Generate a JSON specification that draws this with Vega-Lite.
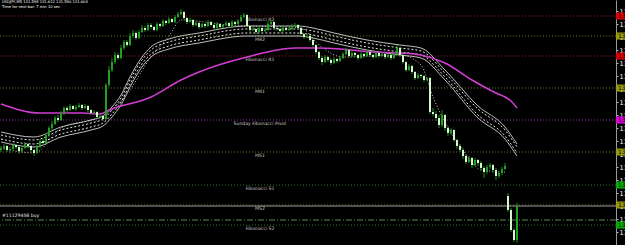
{
"$schema":"https://vega.github.io/schema/vega-lite/v6.json",
"width":616,"height":245,
"autosize":{"type":"none"},
"padding":{"left":0,"top":0,"right":9,"bottom":0},
"background":"#000000",
"config":{"view":{"stroke":null},"font":"DejaVu Sans"},
"resolve":{"axis":{"y":"independent","x":"independent"}},
"datasets":{
"candles":[
{"i":0,"o":132.72,"h":132.80,"l":132.68,"c":132.76},
{"i":1,"o":132.76,"h":132.84,"l":132.72,"c":132.80},
{"i":2,"o":132.80,"h":132.82,"l":132.68,"c":132.72},
{"i":3,"o":132.72,"h":132.78,"l":132.66,"c":132.74},
{"i":4,"o":132.74,"h":132.86,"l":132.72,"c":132.82},
{"i":5,"o":132.82,"h":132.84,"l":132.74,"c":132.78},
{"i":6,"o":132.78,"h":132.80,"l":132.64,"c":132.70},
{"i":7,"o":132.70,"h":132.78,"l":132.68,"c":132.76},
{"i":8,"o":132.76,"h":132.88,"l":132.74,"c":132.84},
{"i":9,"o":132.84,"h":132.86,"l":132.76,"c":132.80},
{"i":10,"o":132.80,"h":132.82,"l":132.68,"c":132.72},
{"i":11,"o":132.72,"h":132.74,"l":132.60,"c":132.66},
{"i":12,"o":132.66,"h":132.82,"l":132.64,"c":132.78},
{"i":13,"o":132.78,"h":132.94,"l":132.76,"c":132.90},
{"i":14,"o":132.90,"h":132.96,"l":132.82,"c":132.86},
{"i":15,"o":132.86,"h":133.06,"l":132.84,"c":133.02},
{"i":16,"o":133.02,"h":133.20,"l":132.98,"c":133.16},
{"i":17,"o":133.16,"h":133.30,"l":133.12,"c":133.24},
{"i":18,"o":133.24,"h":133.40,"l":133.22,"c":133.36},
{"i":19,"o":133.36,"h":133.42,"l":133.28,"c":133.32},
{"i":20,"o":133.32,"h":133.50,"l":133.30,"c":133.46},
{"i":21,"o":133.46,"h":133.60,"l":133.42,"c":133.56},
{"i":22,"o":133.56,"h":133.60,"l":133.48,"c":133.52},
{"i":23,"o":133.52,"h":133.64,"l":133.50,"c":133.60},
{"i":24,"o":133.60,"h":133.62,"l":133.52,"c":133.54},
{"i":25,"o":133.54,"h":133.62,"l":133.50,"c":133.58},
{"i":26,"o":133.58,"h":133.66,"l":133.56,"c":133.62},
{"i":27,"o":133.62,"h":133.64,"l":133.52,"c":133.56},
{"i":28,"o":133.56,"h":133.64,"l":133.54,"c":133.60},
{"i":29,"o":133.60,"h":133.62,"l":133.48,"c":133.52},
{"i":30,"o":133.52,"h":133.54,"l":133.42,"c":133.46},
{"i":31,"o":133.46,"h":133.52,"l":133.44,"c":133.48},
{"i":32,"o":133.48,"h":133.50,"l":133.34,"c":133.38},
{"i":33,"o":133.38,"h":133.44,"l":133.36,"c":133.40},
{"i":34,"o":133.40,"h":133.42,"l":133.30,"c":133.34},
{"i":35,"o":133.34,"h":134.06,"l":133.32,"c":134.02},
{"i":36,"o":134.02,"h":134.40,"l":133.98,"c":134.32},
{"i":37,"o":134.32,"h":134.56,"l":134.28,"c":134.48},
{"i":38,"o":134.48,"h":134.68,"l":134.44,"c":134.62},
{"i":39,"o":134.62,"h":134.66,"l":134.52,"c":134.56},
{"i":40,"o":134.56,"h":134.82,"l":134.54,"c":134.76},
{"i":41,"o":134.76,"h":134.92,"l":134.72,"c":134.88},
{"i":42,"o":134.88,"h":134.92,"l":134.78,"c":134.82},
{"i":43,"o":134.82,"h":135.06,"l":134.80,"c":135.00},
{"i":44,"o":135.00,"h":135.12,"l":134.96,"c":135.06},
{"i":45,"o":135.06,"h":135.10,"l":134.92,"c":134.96},
{"i":46,"o":134.96,"h":135.12,"l":134.94,"c":135.08},
{"i":47,"o":135.08,"h":135.22,"l":135.06,"c":135.16},
{"i":48,"o":135.16,"h":135.20,"l":135.08,"c":135.12},
{"i":49,"o":135.12,"h":135.26,"l":135.10,"c":135.22},
{"i":50,"o":135.22,"h":135.26,"l":135.14,"c":135.18},
{"i":51,"o":135.18,"h":135.20,"l":135.10,"c":135.12},
{"i":52,"o":135.12,"h":135.28,"l":135.10,"c":135.24},
{"i":53,"o":135.24,"h":135.26,"l":135.16,"c":135.20},
{"i":54,"o":135.20,"h":135.34,"l":135.18,"c":135.30},
{"i":55,"o":135.30,"h":135.32,"l":135.22,"c":135.26},
{"i":56,"o":135.26,"h":135.38,"l":135.24,"c":135.34},
{"i":57,"o":135.34,"h":135.36,"l":135.26,"c":135.28},
{"i":58,"o":135.28,"h":135.42,"l":135.26,"c":135.38},
{"i":59,"o":135.38,"h":135.48,"l":135.36,"c":135.44},
{"i":60,"o":135.44,"h":135.54,"l":135.42,"c":135.48},
{"i":61,"o":135.48,"h":135.50,"l":135.32,"c":135.36},
{"i":62,"o":135.36,"h":135.38,"l":135.24,"c":135.28},
{"i":63,"o":135.28,"h":135.36,"l":135.26,"c":135.32},
{"i":64,"o":135.32,"h":135.34,"l":135.18,"c":135.22},
{"i":65,"o":135.22,"h":135.30,"l":135.20,"c":135.26},
{"i":66,"o":135.26,"h":135.28,"l":135.14,"c":135.18},
{"i":67,"o":135.18,"h":135.26,"l":135.16,"c":135.24},
{"i":68,"o":135.24,"h":135.26,"l":135.16,"c":135.20},
{"i":69,"o":135.20,"h":135.32,"l":135.18,"c":135.28},
{"i":70,"o":135.28,"h":135.30,"l":135.20,"c":135.22},
{"i":71,"o":135.22,"h":135.24,"l":135.12,"c":135.16},
{"i":72,"o":135.16,"h":135.28,"l":135.14,"c":135.24},
{"i":73,"o":135.24,"h":135.26,"l":135.14,"c":135.18},
{"i":74,"o":135.18,"h":135.24,"l":135.16,"c":135.22},
{"i":75,"o":135.22,"h":135.30,"l":135.20,"c":135.26},
{"i":76,"o":135.26,"h":135.28,"l":135.16,"c":135.20},
{"i":77,"o":135.20,"h":135.32,"l":135.18,"c":135.28},
{"i":78,"o":135.28,"h":135.30,"l":135.20,"c":135.24},
{"i":79,"o":135.24,"h":135.34,"l":135.22,"c":135.30},
{"i":80,"o":135.30,"h":135.42,"l":135.28,"c":135.38},
{"i":81,"o":135.38,"h":135.46,"l":135.36,"c":135.42},
{"i":82,"o":135.42,"h":135.44,"l":135.18,"c":135.20},
{"i":83,"o":135.20,"h":135.22,"l":135.08,"c":135.12},
{"i":84,"o":135.12,"h":135.18,"l":135.10,"c":135.14},
{"i":85,"o":135.14,"h":135.16,"l":135.04,"c":135.08},
{"i":86,"o":135.08,"h":135.20,"l":135.06,"c":135.16},
{"i":87,"o":135.16,"h":135.18,"l":135.06,"c":135.10},
{"i":88,"o":135.10,"h":135.16,"l":135.08,"c":135.12},
{"i":89,"o":135.12,"h":135.30,"l":135.10,"c":135.24},
{"i":90,"o":135.24,"h":135.32,"l":135.22,"c":135.28},
{"i":91,"o":135.28,"h":135.30,"l":135.14,"c":135.16},
{"i":92,"o":135.16,"h":135.18,"l":135.10,"c":135.14},
{"i":93,"o":135.14,"h":135.16,"l":135.06,"c":135.10},
{"i":94,"o":135.10,"h":135.20,"l":135.08,"c":135.16},
{"i":95,"o":135.16,"h":135.18,"l":135.10,"c":135.12},
{"i":96,"o":135.12,"h":135.18,"l":135.10,"c":135.14},
{"i":97,"o":135.14,"h":135.24,"l":135.12,"c":135.20},
{"i":98,"o":135.20,"h":135.26,"l":135.18,"c":135.22},
{"i":99,"o":135.22,"h":135.24,"l":135.12,"c":135.16},
{"i":100,"o":135.16,"h":135.18,"l":135.00,"c":135.04},
{"i":101,"o":135.04,"h":135.06,"l":134.94,"c":134.98},
{"i":102,"o":134.98,"h":135.04,"l":134.96,"c":135.00},
{"i":103,"o":135.00,"h":135.02,"l":134.88,"c":134.92},
{"i":104,"o":134.92,"h":134.94,"l":134.78,"c":134.82},
{"i":105,"o":134.82,"h":134.84,"l":134.64,"c":134.68},
{"i":106,"o":134.68,"h":134.70,"l":134.52,"c":134.56},
{"i":107,"o":134.56,"h":134.60,"l":134.42,"c":134.48},
{"i":108,"o":134.48,"h":134.62,"l":134.46,"c":134.58},
{"i":109,"o":134.58,"h":134.60,"l":134.48,"c":134.52},
{"i":110,"o":134.52,"h":134.56,"l":134.42,"c":134.46},
{"i":111,"o":134.46,"h":134.58,"l":134.44,"c":134.54},
{"i":112,"o":134.54,"h":134.56,"l":134.46,"c":134.50},
{"i":113,"o":134.50,"h":134.60,"l":134.48,"c":134.56},
{"i":114,"o":134.56,"h":134.68,"l":134.54,"c":134.64},
{"i":115,"o":134.64,"h":134.76,"l":134.62,"c":134.72},
{"i":116,"o":134.72,"h":134.74,"l":134.56,"c":134.60},
{"i":117,"o":134.60,"h":134.70,"l":134.58,"c":134.66},
{"i":118,"o":134.66,"h":134.68,"l":134.58,"c":134.62},
{"i":119,"o":134.62,"h":134.64,"l":134.52,"c":134.56},
{"i":120,"o":134.56,"h":134.68,"l":134.54,"c":134.64},
{"i":121,"o":134.64,"h":134.66,"l":134.56,"c":134.60},
{"i":122,"o":134.60,"h":134.72,"l":134.58,"c":134.68},
{"i":123,"o":134.68,"h":134.70,"l":134.58,"c":134.62},
{"i":124,"o":134.62,"h":134.64,"l":134.54,"c":134.58},
{"i":125,"o":134.58,"h":134.70,"l":134.56,"c":134.66},
{"i":126,"o":134.66,"h":134.68,"l":134.56,"c":134.60},
{"i":127,"o":134.60,"h":134.66,"l":134.58,"c":134.64},
{"i":128,"o":134.64,"h":134.66,"l":134.54,"c":134.58},
{"i":129,"o":134.58,"h":134.64,"l":134.56,"c":134.62},
{"i":130,"o":134.62,"h":134.64,"l":134.52,"c":134.56},
{"i":131,"o":134.56,"h":134.68,"l":134.54,"c":134.64},
{"i":132,"o":134.64,"h":134.82,"l":134.62,"c":134.76},
{"i":133,"o":134.76,"h":134.78,"l":134.58,"c":134.62},
{"i":134,"o":134.62,"h":134.64,"l":134.44,"c":134.48},
{"i":135,"o":134.48,"h":134.50,"l":134.28,"c":134.32},
{"i":136,"o":134.32,"h":134.44,"l":134.30,"c":134.40},
{"i":137,"o":134.40,"h":134.42,"l":134.24,"c":134.28},
{"i":138,"o":134.28,"h":134.30,"l":134.12,"c":134.16},
{"i":139,"o":134.16,"h":134.26,"l":134.14,"c":134.22},
{"i":140,"o":134.22,"h":134.24,"l":134.16,"c":134.20},
{"i":141,"o":134.20,"h":134.22,"l":134.08,"c":134.12},
{"i":142,"o":134.12,"h":134.18,"l":134.10,"c":134.16},
{"i":143,"o":134.16,"h":134.18,"l":133.44,"c":133.48},
{"i":144,"o":133.48,"h":133.56,"l":133.40,"c":133.44},
{"i":145,"o":133.44,"h":133.50,"l":133.30,"c":133.36},
{"i":146,"o":133.36,"h":133.42,"l":133.16,"c":133.22},
{"i":147,"o":133.22,"h":133.52,"l":133.18,"c":133.42},
{"i":148,"o":133.42,"h":133.44,"l":133.10,"c":133.16},
{"i":149,"o":133.16,"h":133.20,"l":133.00,"c":133.06},
{"i":150,"o":133.06,"h":133.16,"l":133.02,"c":133.12},
{"i":151,"o":133.12,"h":133.14,"l":132.88,"c":132.92},
{"i":152,"o":132.92,"h":132.94,"l":132.74,"c":132.80},
{"i":153,"o":132.80,"h":132.84,"l":132.68,"c":132.72},
{"i":154,"o":132.72,"h":132.76,"l":132.54,"c":132.60},
{"i":155,"o":132.60,"h":132.64,"l":132.44,"c":132.48},
{"i":156,"o":132.48,"h":132.60,"l":132.46,"c":132.56},
{"i":157,"o":132.56,"h":132.58,"l":132.36,"c":132.42},
{"i":158,"o":132.42,"h":132.56,"l":132.40,"c":132.52},
{"i":159,"o":132.52,"h":132.54,"l":132.40,"c":132.46},
{"i":160,"o":132.46,"h":132.50,"l":132.30,"c":132.36},
{"i":161,"o":132.36,"h":132.40,"l":132.16,"c":132.28},
{"i":162,"o":132.28,"h":132.42,"l":132.24,"c":132.38},
{"i":163,"o":132.38,"h":132.46,"l":132.34,"c":132.42},
{"i":164,"o":132.42,"h":132.44,"l":132.26,"c":132.32},
{"i":165,"o":132.32,"h":132.36,"l":132.12,"c":132.20},
{"i":166,"o":132.20,"h":132.30,"l":132.16,"c":132.26},
{"i":167,"o":132.26,"h":132.38,"l":132.22,"c":132.34},
{"i":168,"o":132.34,"h":132.46,"l":132.32,"c":132.40},
{"i":169,"o":131.80,"h":131.86,"l":131.48,"c":131.52},
{"i":170,"o":131.52,"h":131.56,"l":131.08,"c":131.12},
{"i":171,"o":131.12,"h":131.16,"l":130.88,"c":130.92},
{"i":172,"o":130.92,"h":131.66,"l":130.86,"c":131.60}
],
"ma":[
{"i":0,"p":133.64},{"i":13,"p":133.46},{"i":27,"p":133.46},{"i":33,"p":133.44},{"i":36,"p":133.52},{"i":50,"p":133.78},{"i":60,"p":134.12},{"i":66,"p":134.28},{"i":82,"p":134.58},{"i":98,"p":134.76},{"i":105,"p":134.76},{"i":113,"p":134.74},{"i":124,"p":134.68},{"i":133,"p":134.66},{"i":140,"p":134.62},{"i":148,"p":134.46},{"i":157,"p":134.12},{"i":165,"p":133.86},{"i":168,"p":133.78},{"i":170,"p":133.70},{"i":172,"p":133.56}
],
"fast":[
{"i":0,"p":132.76},{"i":11,"p":132.66},{"i":20,"p":133.16},{"i":33,"p":133.38},{"i":36,"p":133.48},{"i":42,"p":133.84},{"i":50,"p":134.58},{"i":56,"p":135.00},{"i":60,"p":135.32},{"i":76,"p":135.22},{"i":100,"p":135.16},{"i":106,"p":134.82},{"i":114,"p":134.58},{"i":133,"p":134.62},{"i":140,"p":134.42},{"i":144,"p":133.78},{"i":154,"p":132.72},{"i":160,"p":132.32},{"i":168,"p":132.28}
],
"env":[
{"i":0,"band":"up","p":133.08},{"i":0,"band":"upm","p":133.02},{"i":0,"band":"lom","p":132.94},{"i":0,"band":"lo","p":132.88},
{"i":11,"band":"up","p":132.98},{"i":11,"band":"upm","p":132.92},{"i":11,"band":"lom","p":132.84},{"i":11,"band":"lo","p":132.78},
{"i":20,"band":"up","p":133.18},{"i":20,"band":"upm","p":133.12},{"i":20,"band":"lom","p":133.04},{"i":20,"band":"lo","p":132.98},
{"i":30,"band":"up","p":133.32},{"i":30,"band":"upm","p":133.26},{"i":30,"band":"lom","p":133.18},{"i":30,"band":"lo","p":133.12},
{"i":34,"band":"up","p":133.40},{"i":34,"band":"upm","p":133.34},{"i":34,"band":"lom","p":133.26},{"i":34,"band":"lo","p":133.20},
{"i":37,"band":"up","p":133.58},{"i":37,"band":"upm","p":133.52},{"i":37,"band":"lom","p":133.44},{"i":37,"band":"lo","p":133.38},
{"i":40,"band":"up","p":133.82},{"i":40,"band":"upm","p":133.76},{"i":40,"band":"lom","p":133.68},{"i":40,"band":"lo","p":133.62},
{"i":43,"band":"up","p":134.18},{"i":43,"band":"upm","p":134.12},{"i":43,"band":"lom","p":134.04},{"i":43,"band":"lo","p":133.98},
{"i":47,"band":"up","p":134.58},{"i":47,"band":"upm","p":134.52},{"i":47,"band":"lom","p":134.44},{"i":47,"band":"lo","p":134.38},
{"i":50,"band":"up","p":134.78},{"i":50,"band":"upm","p":134.72},{"i":50,"band":"lom","p":134.64},{"i":50,"band":"lo","p":134.58},
{"i":56,"band":"up","p":134.94},{"i":56,"band":"upm","p":134.88},{"i":56,"band":"lom","p":134.80},{"i":56,"band":"lo","p":134.74},
{"i":66,"band":"up","p":135.06},{"i":66,"band":"upm","p":135.00},{"i":66,"band":"lom","p":134.92},{"i":66,"band":"lo","p":134.86},
{"i":82,"band":"up","p":135.20},{"i":82,"band":"upm","p":135.14},{"i":82,"band":"lom","p":135.06},{"i":82,"band":"lo","p":135.00},
{"i":99,"band":"up","p":135.20},{"i":99,"band":"upm","p":135.14},{"i":99,"band":"lom","p":135.06},{"i":99,"band":"lo","p":135.00},
{"i":104,"band":"up","p":135.16},{"i":104,"band":"upm","p":135.10},{"i":104,"band":"lom","p":135.02},{"i":104,"band":"lo","p":134.96},
{"i":111,"band":"up","p":135.06},{"i":111,"band":"upm","p":135.00},{"i":111,"band":"lom","p":134.92},{"i":111,"band":"lo","p":134.86},
{"i":122,"band":"up","p":134.92},{"i":122,"band":"upm","p":134.86},{"i":122,"band":"lom","p":134.78},{"i":122,"band":"lo","p":134.72},
{"i":133,"band":"up","p":134.82},{"i":133,"band":"upm","p":134.76},{"i":133,"band":"lom","p":134.68},{"i":133,"band":"lo","p":134.62},
{"i":140,"band":"up","p":134.76},{"i":140,"band":"upm","p":134.70},{"i":140,"band":"lom","p":134.62},{"i":140,"band":"lo","p":134.56},
{"i":148,"band":"up","p":134.32},{"i":148,"band":"upm","p":134.26},{"i":148,"band":"lom","p":134.18},{"i":148,"band":"lo","p":134.12},
{"i":159,"band":"up","p":133.60},{"i":159,"band":"upm","p":133.54},{"i":159,"band":"lom","p":133.42},{"i":159,"band":"lo","p":133.36},
{"i":168,"band":"up","p":133.18},{"i":168,"band":"upm","p":133.12},{"i":168,"band":"lom","p":133.00},{"i":168,"band":"lo","p":132.94},
{"i":172,"band":"up","p":132.84},{"i":172,"band":"upm","p":132.78},{"i":172,"band":"lom","p":132.66},{"i":172,"band":"lo","p":132.60}
],
"levels":[
{"name":"Fibonacci R2","kind":"fibR","price":135.40},
{"name":"MR2","kind":"mid","price":135.00},
{"name":"Fibonacci R1","kind":"fibR","price":134.60},
{"name":"MR1","kind":"mid","price":133.96},
{"name":"Sunday  Fibonacci Pivot","kind":"pivot","price":133.32},
{"name":"MS1","kind":"mid","price":132.68},
{"name":"Fibonacci S1","kind":"fibS","price":132.02},
{"name":"MS2","kind":"mid","price":131.62},
{"name":"Fibonacci S2","kind":"fibS","price":131.22},
{"name":"#11129458 buy","kind":"order","price":131.32},
{"name":"Bid","kind":"bid","price":131.60}
]
},
"layer":[
{"data":{"name":"levels"},"mark":{"type":"rule","strokeWidth":1},
 "encoding":{
  "y":{"field":"price","type":"quantitative","scale":{"domain":[130.82,135.72],"nice":false,"zero":false},
   "axis":{"orient":"right","title":null,"values":[135.50,135.24,134.98,134.72,134.46,134.20,133.94,133.68,133.42,133.16,132.90,132.64,132.38,132.12,131.86,131.60,131.34,131.08],"format":".3f","labelColor":"#ffffff","labelFontSize":6.5,"labelFont":"DejaVu Sans","tickColor":"#c0c0c0","tickSize":2,"labelPadding":1,"domain":true,"domainColor":"#9a9a9a","domainWidth":1,"grid":false,"labelOverlap":false,"labelBaseline":"middle","labelBound":false,"labelFlush":false}},
  "stroke":{"field":"kind","type":"nominal","scale":{"domain":["fibR","mid","pivot","fibS","order","bid"],"range":["#a01c1c","#6f6f26","#8e2e9e","#2f6f2f","#5a8a5a","#9a9a9a"]},"legend":null},
  "strokeDash":{"field":"kind","type":"nominal","scale":{"domain":["fibR","mid","pivot","fibS","order","bid"],"range":[[1,2],[1,2],[1,2],[1,2],[6,2,1,2],[1,0]]},"legend":null}}},
{"data":{"name":"levels"},"transform":[{"filter":"datum.kind != 'order' && datum.kind != 'bid'"}],
 "mark":{"type":"text","fontSize":4.6,"color":"#c8c8c8","baseline":"middle","align":"center","dy":3.5},
 "encoding":{
  "x":{"datum":86.33,"type":"quantitative","scale":{"domain":[-0.3333,205],"nice":false,"zero":false},"axis":null},
  "y":{"field":"price","type":"quantitative","scale":{"domain":[130.82,135.72],"nice":false,"zero":false},"axis":null},
  "text":{"field":"name"}}},
{"data":{"name":"env"},"transform":[{"filter":"datum.band == 'up' || datum.band == 'lo'"}],
 "mark":{"type":"line","stroke":"#bdbdbd","strokeWidth":1,"interpolate":"monotone"},
 "encoding":{
  "x":{"field":"i","type":"quantitative","scale":{"domain":[-0.3333,205],"nice":false,"zero":false},"axis":null},
  "y":{"field":"p","type":"quantitative","scale":{"domain":[130.82,135.72],"nice":false,"zero":false},"axis":null},
  "detail":{"field":"band"}}},
{"data":{"name":"env"},"transform":[{"filter":"datum.band == 'upm' || datum.band == 'lom'"}],
 "mark":{"type":"line","stroke":"#e6e6e6","strokeWidth":1,"strokeDash":[2,2],"interpolate":"monotone"},
 "encoding":{
  "x":{"field":"i","type":"quantitative","scale":{"domain":[-0.3333,205],"nice":false,"zero":false},"axis":null},
  "y":{"field":"p","type":"quantitative","scale":{"domain":[130.82,135.72],"nice":false,"zero":false},"axis":null},
  "detail":{"field":"band"}}},
{"data":{"name":"fast"},
 "mark":{"type":"line","stroke":"#c8c8c8","strokeWidth":1,"strokeDash":[1,2],"interpolate":"monotone"},
 "encoding":{
  "x":{"field":"i","type":"quantitative","scale":{"domain":[-0.3333,205],"nice":false,"zero":false},"axis":null},
  "y":{"field":"p","type":"quantitative","scale":{"domain":[130.82,135.72],"nice":false,"zero":false},"axis":null}}},
{"data":{"name":"ma"},
 "mark":{"type":"line","stroke":"#d23cd2","strokeWidth":1.6,"interpolate":"monotone"},
 "encoding":{
  "x":{"field":"i","type":"quantitative","scale":{"domain":[-0.3333,205],"nice":false,"zero":false},"axis":null},
  "y":{"field":"p","type":"quantitative","scale":{"domain":[130.82,135.72],"nice":false,"zero":false},"axis":null}}},
{"data":{"name":"candles"},
 "mark":{"type":"rule","stroke":"#1f8a1f","strokeWidth":1},
 "encoding":{
  "x":{"field":"i","type":"quantitative","scale":{"domain":[-0.3333,205],"nice":false,"zero":false},"axis":null},
  "y":{"field":"l","type":"quantitative","scale":{"domain":[130.82,135.72],"nice":false,"zero":false},"axis":null},
  "y2":{"field":"h"}}},
{"data":{"name":"candles"},
 "mark":{"type":"rule","strokeWidth":2},
 "encoding":{
  "x":{"field":"i","type":"quantitative","scale":{"domain":[-0.3333,205],"nice":false,"zero":false},"axis":null},
  "y":{"field":"o","type":"quantitative","scale":{"domain":[130.82,135.72],"nice":false,"zero":false},"axis":null},
  "y2":{"field":"c"},
  "stroke":{"condition":{"test":"datum.c > datum.o","value":"#23a023"},"value":"#d4f7cc"}}},
{"data":{"name":"levels"},"transform":[{"filter":"datum.kind == 'order'"}],
 "mark":{"type":"text","fontSize":4.6,"color":"#e8e8e8","baseline":"middle","align":"left","dy":-4},
 "encoding":{
  "x":{"datum":0.33,"type":"quantitative","scale":{"domain":[-0.3333,205],"nice":false,"zero":false},"axis":null},
  "y":{"field":"price","type":"quantitative","scale":{"domain":[130.82,135.72],"nice":false,"zero":false},"axis":null},
  "text":{"field":"name"}}},
{"data":{"name":"levels"},"transform":[{"filter":"datum.kind != 'order' && datum.kind != 'bid'"}],
 "mark":{"type":"tick","orient":"horizontal","size":10,"thickness":7,"opacity":1},
 "encoding":{
  "x":{"datum":206.67,"type":"quantitative","scale":{"domain":[-0.3333,205],"nice":false,"zero":false},"axis":null},
  "y":{"field":"price","type":"quantitative","scale":{"domain":[130.82,135.72],"nice":false,"zero":false},"axis":null},
  "color":{"field":"kind","type":"nominal","scale":{"domain":["fibR","mid","pivot","fibS"],"range":["#e00000","#9a9a10","#e000e0","#00b000"]},"legend":null}}},
{"data":{"name":"levels"},"transform":[{"filter":"datum.kind != 'order' && datum.kind != 'bid'"}],
 "mark":{"type":"text","fontSize":6,"color":"#000000","baseline":"middle","align":"left"},
 "encoding":{
  "x":{"datum":205.67,"type":"quantitative","scale":{"domain":[-0.3333,205],"nice":false,"zero":false},"axis":null},
  "y":{"field":"price","type":"quantitative","scale":{"domain":[130.82,135.72],"nice":false,"zero":false},"axis":null},
  "text":{"field":"price","type":"quantitative","format":".3f"}}},
{"data":{"values":[{"note":"USDJPY,M5 131.598 131.612 131.590 131.604"},{"note":"Time for next bar: 7 min 10 sec"}]},
 "transform":[{"window":[{"op":"row_number","as":"row"}]}],
 "mark":{"type":"text","fontSize":3.7,"color":"#ffffff","baseline":"top","align":"left"},
 "encoding":{
  "x":{"datum":0.33,"type":"quantitative","scale":{"domain":[-0.3333,205],"nice":false,"zero":false},"axis":null},
  "y":{"datum":135.72,"type":"quantitative","scale":{"domain":[130.82,135.72],"nice":false,"zero":false},"axis":null},
  "yOffset":{"field":"row","type":"quantitative","scale":{"domain":[1,2],"range":[0,5]},"legend":null},
  "text":{"field":"note"}}}
]
}
